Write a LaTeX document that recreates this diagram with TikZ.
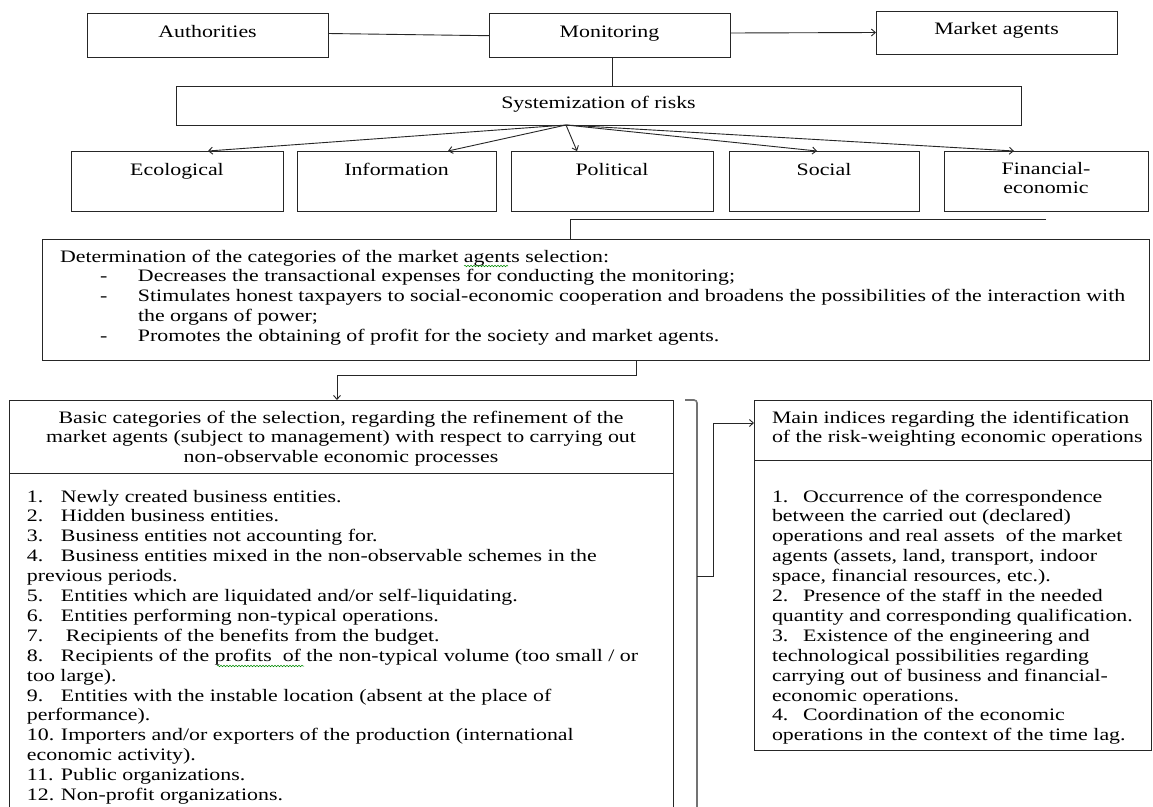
\documentclass[tikz,border=0pt]{standalone}
\usepackage{fontspec}
\setmainfont{Liberation Serif}[FakeStretch=1.25]
\usetikzlibrary{arrows.meta,calc,decorations.pathmorphing}
\begin{document}
\begin{tikzpicture}[x=1pt,y=-1pt,
  every node/.style={font=\fontsize{17.5}{19.9}\selectfont, inner sep=0pt, outer sep=0pt},
  box/.style={draw=black!85, line width=0.9pt, rectangle, anchor=north west},
  lbl/.style={anchor=base},
  txt/.style={anchor=base west},
  conn/.style={draw=black!85, line width=0.9pt},
  arr/.style={conn, -{Straight Barb[length=4pt,width=7pt]}},
  brk/.style={draw=black!55, line width=1.6pt, rounded corners=3pt},
  wavy/.style={draw=green!55!black, line width=0.5pt, decorate, decoration={snake, amplitude=0.8pt, segment length=3pt}}]
\clip (0,0) rectangle (1153,806);
\fill[white] (0,0) rectangle (1153,806);
% boxes
\node[box, minimum width=241pt, minimum height=44pt] (auth) at (87,13) {};
\node[box, minimum width=241pt, minimum height=44pt] (mon) at (489,13) {};
\node[box, minimum width=241pt, minimum height=43pt] (mkt) at (876,11) {};
\node[box, minimum width=845pt, minimum height=39pt] (sys) at (176,86) {};
\node[box, minimum width=212pt, minimum height=60pt] (eco) at (71,151) {};
\node[box, minimum width=199pt, minimum height=60pt] (info) at (297,151) {};
\node[box, minimum width=202pt, minimum height=60pt] (pol) at (511,151) {};
\node[box, minimum width=190pt, minimum height=60pt] (soc) at (729,151) {};
\node[box, minimum width=204pt, minimum height=60pt] (fin) at (944,151) {};
\node[box, minimum width=1107pt, minimum height=121pt] (det) at (42,239) {};
\node[box, minimum width=664pt, minimum height=420pt] (basic) at (9,400) {};
\node[box, minimum width=397pt, minimum height=350pt] (main) at (754,400) {};
% separators
\draw[conn] ([yshift=-73pt]basic.north west) -- ([yshift=-73pt]basic.north east);
\draw[conn] ([yshift=-60pt]main.north west) -- ([yshift=-60pt]main.north east);
% texts
\node[lbl] (tauth) at (207.5,37) {Authorities};
\node[lbl] (tmon) at (609.5,37) {Monitoring};
\node[lbl] (tmkt) at (996.5,34) {Market agents};
\node[lbl] (tsys) at (598.5,108) {Systemization of risks};
\node[lbl] (teco) at (177,175) {Ecological};
\node[lbl] (tinfo) at (396.5,175) {Information};
\node[lbl] (tpol) at (612,175) {Political};
\node[lbl] (tsoc) at (824,175) {Social};
\node[lbl] (tfin) at (1046,174) {\parbox[t]{200pt}{\centering\baselineskip=19pt Financial-\\economic}};
\node[txt] (tdet) at (60,262) {\parbox[t]{1085pt}{Determination of the categories of the market agents selection:\\
\hspace*{40pt}\makebox[38pt][l]{-}Decreases the transactional expenses for conducting the monitoring;\\
\hspace*{40pt}\makebox[38pt][l]{-}Stimulates honest taxpayers to social-economic cooperation and broadens the possibilities of the interaction with\\
\hspace*{78pt}the organs of power;\\
\hspace*{40pt}\makebox[38pt][l]{-}Promotes the obtaining of profit for the society and market agents.}};
\node[lbl] (tbh) at (341,423) {\parbox[t]{660pt}{\centering Basic categories of the selection, regarding the refinement of the\\
market agents (subject to management) with respect to carrying out\\
non-observable economic processes}};
\node[txt] (tbl) at (27,502) {\parbox[t]{645pt}{%
\makebox[34pt][l]{1.}Newly created business entities.\\
\makebox[34pt][l]{2.}Hidden business entities.\\
\makebox[34pt][l]{3.}Business entities not accounting for.\\
\makebox[34pt][l]{4.}Business entities mixed in the non-observable schemes in the\\
previous periods.\\
\makebox[34pt][l]{5.}Entities which are liquidated and/or self-liquidating.\\
\makebox[34pt][l]{6.}Entities performing non-typical operations.\\
\makebox[39pt][l]{7.}Recipients of the benefits from the budget.\\
\makebox[34pt][l]{8.}Recipients of the profits\ \ of the non-typical volume (too small / or\\
too large).\\
\makebox[34pt][l]{9.}Entities with the instable location (absent at the place of\\
performance).\\
\makebox[34pt][l]{10.}Importers and/or exporters of the production (international\\
economic activity).\\
\makebox[34pt][l]{11.}Public organizations.\\
\makebox[34pt][l]{12.}Non-profit organizations.}};
\node[txt] (tmh) at (772,423) {\parbox[t]{375pt}{Main indices regarding the identification\\
of the risk-weighting economic operations}};
\node[txt] (tml) at (772,502) {\parbox[t]{375pt}{%
\makebox[31pt][l]{1.}Occurrence of the correspondence\\
between the carried out (declared)\\
operations and real assets\ \ of the market\\
agents (assets, land, transport, indoor\\
space, financial resources, etc.).\\
\makebox[31pt][l]{2.}Presence of the staff in the needed\\
quantity and corresponding qualification.\\
\makebox[31pt][l]{3.}Existence of the engineering and\\
technological possibilities regarding\\
carrying out of business and financial-\\
economic operations.\\
\makebox[31pt][l]{4.}Coordination of the economic\\
operations in the context of the time lag.}};
% spell-check marks
\draw[wavy] (464,266) -- (508,266);
\draw[wavy] (217,666) -- (304,666);
% connectors
\draw[conn] ([yshift=1.5pt]auth.east) -- ([yshift=-0.7pt]mon.west);
\draw[arr] ([yshift=2pt]mon.east) -- (mkt.west);
\draw[conn] ([xshift=2.5pt]mon.south) -- ([xshift=2.5pt]mon.south |- sys.north);
\coordinate (fan) at ([xshift=-32.5pt]sys.south);
\draw[arr] (fan) -- ([xshift=31pt]eco.north);
\draw[arr] (fan) -- ([xshift=51.5pt]info.north);
\draw[arr] (fan) -- ([xshift=-35pt]pol.north);
\draw[arr] (fan) -- ([xshift=-7pt]soc.north);
\draw[arr] (fan) -- ([xshift=-32pt]fin.north);
\draw[conn] ([yshift=-8pt]fin.south) -| ([xshift=-25.5pt]det.north);
\draw[arr] ([xshift=40.5pt]det.south) -- ++(0,15) -| ([xshift=-4pt]basic.north);
% bracket
\draw[brk] (685,400) -- (697,400) -- (697,820);
\coordinate (bk) at (697,576);
\draw[arr] (bk) -- (713,576) |- ([yshift=-23pt]main.north west);
\end{tikzpicture}
\end{document}
